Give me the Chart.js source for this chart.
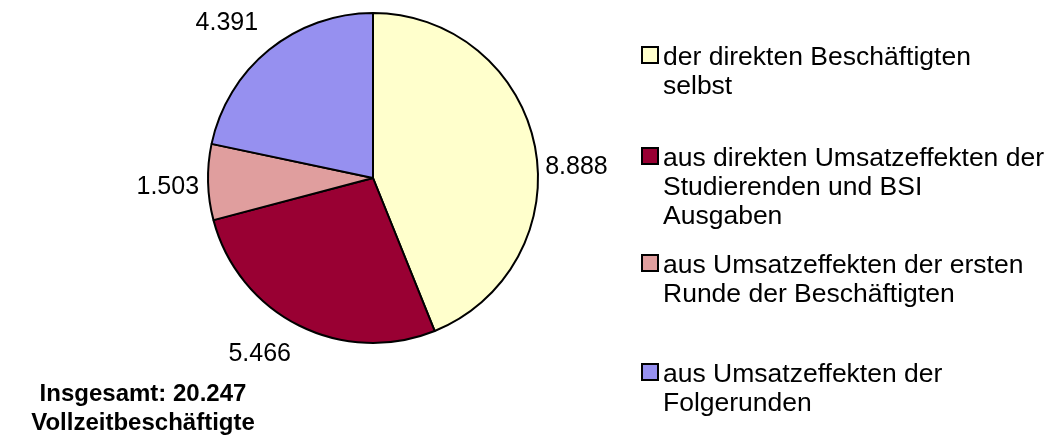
<!DOCTYPE html>
<html lang="de">
<head>
<meta charset="utf-8">
<script src="https://cdn.jsdelivr.net/npm/chart.js@4"></script>
<style>
    body { margin: 0; background: #fff; font-family: "Liberation Sans", Arial, sans-serif; }
    #wrap { position: relative; width: 1050px; height: 441px; }
    #legend { position: absolute; left: 641px; top: 0; }
    .item { position: absolute; left: 0; width: 409px; font-size: 26.5px; line-height: 29px; color: #000; white-space: nowrap; }
    .item .box { position: absolute; left: 0; top: 4px; width: 14px; height: 14px; border: 2px solid #000; }
    .item .txt { margin-left: 22px; }
    #total { position: absolute; left: 0; top: 378px; width: 286px; text-align: center;
             font-size: 24px; font-weight: bold; line-height: 29px; color: #000; }
</style>
</head>
<body>
<div id="wrap">
    <canvas id="pie" width="1050" height="441"></canvas>
    <div id="legend"></div>
    <div id="total">Insgesamt: 20.247<br>Vollzeitbeschäftigte</div>
</div>
<script>
// Daten
const kategorien = [
    ['der direkten Beschäftigten', 'selbst'],
    ['aus direkten Umsatzeffekten der', 'Studierenden und BSI', 'Ausgaben'],
    ['aus Umsatzeffekten der ersten', 'Runde der Beschäftigten'],
    ['aus Umsatzeffekten der', 'Folgerunden']
];
const werte = [8888, 5466, 1503, 4391];
const wertLabels = ['8.888', '5.466', '1.503', '4.391'];
const farben = ['#FFFFCC', '#990033', '#E09E9E', '#9690F0'];

// Legende (HTML)
const legendTops = [42, 143, 250, 359];
const legend = document.getElementById('legend');
kategorien.forEach((zeilen, i) => {
    const div = document.createElement('div');
    div.className = 'item';
    div.style.top = legendTops[i] + 'px';
    div.innerHTML = `<span class="box" style="background:${farben[i]}"></span>
        <div class="txt">${zeilen.join('<br>')}</div>`;
    legend.appendChild(div);
});

// Werte außen an die Segmente schreiben
const labelNudge = [[-1, 25], [-20, 9], [3, 4], [-15, -10]];
const aussenLabels = {
    id: 'aussenLabels',
    afterDatasetsDraw(chart) {
        const ctx = chart.ctx;
        const meta = chart.getDatasetMeta(0);
        ctx.save();
        ctx.font = '25px "Liberation Sans", Arial, sans-serif';
        ctx.fillStyle = '#000';
        ctx.textAlign = 'center';
        ctx.textBaseline = 'middle';
        meta.data.forEach((arc, i) => {
            const p = arc.getProps(['x', 'y', 'startAngle', 'endAngle', 'outerRadius'], true);
            const mid = (p.startAngle + p.endAngle) / 2;
            const dx = Math.cos(mid), dy = Math.sin(mid);
            const r = p.outerRadius + 12;
            const w = ctx.measureText(wertLabels[i]).width;
            const h = 20;
            const x = p.x + dx * r + dx * w / 2 + labelNudge[i][0];
            const y = p.y + dy * r + dy * h / 2 + labelNudge[i][1];
            ctx.fillText(wertLabels[i], x, y);
        });
        ctx.restore();
    }
};

new Chart(document.getElementById('pie'), {
    type: 'pie',
    data: {
        labels: kategorien.map(z => z.join(' ')),
        datasets: [{
            data: werte,
            backgroundColor: farben,
            borderColor: '#000',
            borderWidth: 2
        }]
    },
    options: {
        responsive: false,
        animation: false,
        layout: { padding: { left: 207, right: 511, top: 12, bottom: 97 } },
        plugins: {
            legend: { display: false },
            tooltip: { enabled: false }
        }
    },
    plugins: [aussenLabels]
});
</script>
</body>
</html>
